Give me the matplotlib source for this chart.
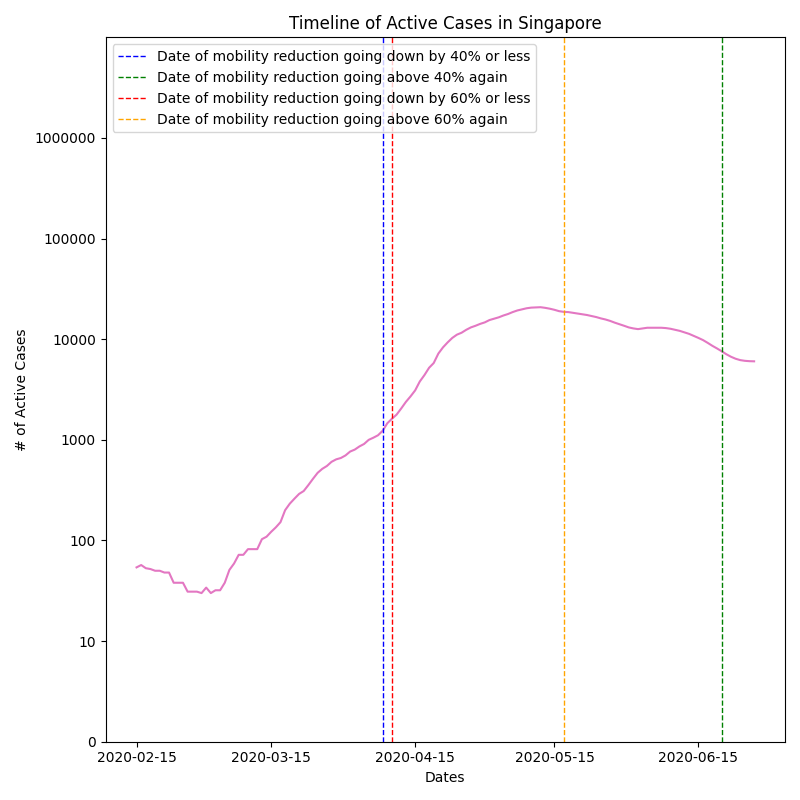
import numpy as np
import pandas as pd
import matplotlib
matplotlib.use('Agg')
import matplotlib.pyplot as plt
import matplotlib.dates as mdates
from matplotlib.ticker import NullLocator, FixedLocator

# Active cases in Singapore, one value per day starting 2020-02-15
start_date = '2020-02-15'
active_cases = [
    54, 57, 53, 52, 50, 50, 48, 48, 38, 38,
    38, 31, 31, 31, 30, 34, 30, 32, 32, 38,
    51, 59, 72, 72, 82, 82, 82, 103, 109, 122,
    135, 152, 200, 232, 260, 290, 310, 355, 410, 470,
    515, 550, 605, 640, 660, 700, 765, 800, 860, 910,
    1000, 1050, 1110, 1230, 1460, 1620, 1780, 2050, 2380, 2700,
    3100, 3800, 4400, 5200, 5800, 7200, 8300, 9300, 10300, 11100,
    11600, 12400, 13100, 13600, 14200, 14700, 15500, 16000, 16500, 17200,
    17800, 18600, 19300, 19800, 20300, 20600, 20700, 20800, 20500, 20100,
    19600, 19000, 18700, 18600, 18300, 18000, 17700, 17400, 17000, 16600,
    16100, 15700, 15200, 14600, 14100, 13600, 13100, 12800, 12600, 12800,
    13000, 13000, 13000, 13000, 12900, 12700, 12400, 12100, 11700, 11300,
    10800, 10300, 9800, 9200, 8600, 8100, 7600, 7100, 6700, 6400,
    6200, 6100, 6050, 6030,
]

# Mobility reduction dates
event_dates = ['2020-04-08', '2020-06-20', '2020-04-10', '2020-05-17']
event_labels = [
    'Date of mobility reduction going down by 40% or less',
    'Date of mobility reduction going above 40% again',
    'Date of mobility reduction going down by 60% or less',
    'Date of mobility reduction going above 60% again',
]
event_colors = ['blue', 'green', 'red', 'orange']

ytick_values = [1, 10, 100, 1000, 10000, 100000, 1000000]
ytick_labels = ['0', '10', '100', '1000', '10000', '100000', '1000000']

dates = pd.date_range(start_date, periods=len(active_cases), freq='D')

fig, ax = plt.subplots(figsize=(8, 8), dpi=100)

ax.plot(dates, active_cases, color='tab:pink')

for d, lbl, c in zip(event_dates, event_labels, event_colors):
    ax.axvline(pd.Timestamp(d), color=c, linestyle='--', linewidth=1, label=lbl)

ax.set_yscale('log')
ax.set_ylim(1, 1e7)
ax.yaxis.set_major_locator(FixedLocator(ytick_values))
ax.set_yticklabels(ytick_labels)
ax.yaxis.set_minor_locator(NullLocator())

ax.xaxis.set_major_locator(mdates.MonthLocator(bymonthday=15))
ax.xaxis.set_major_formatter(mdates.DateFormatter('%Y-%m-%d'))

ax.set_title('Timeline of Active Cases in Singapore')
ax.set_xlabel('Dates')
ax.set_ylabel('# of Active Cases')
ax.legend(loc='upper left')

plt.tight_layout()
plt.savefig('out.png', dpi=100)
plt.close()
